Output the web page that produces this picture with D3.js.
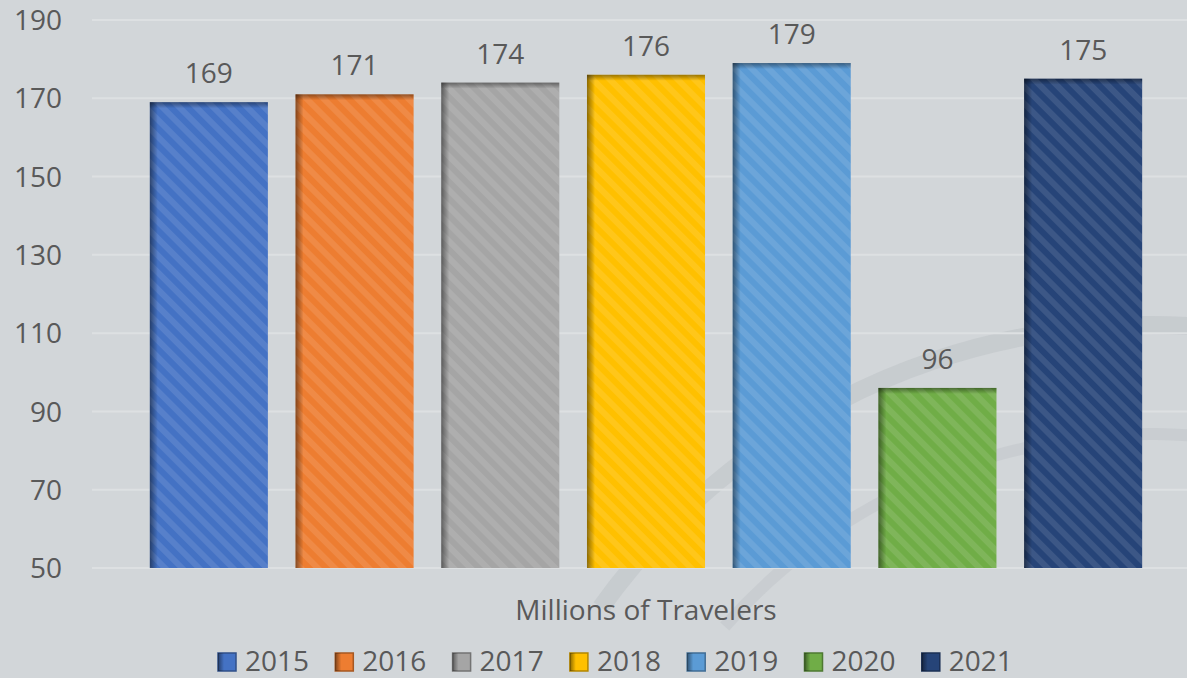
<!DOCTYPE html>
<html>
<head>
  <meta charset="utf-8">
  <title>Millions of Travelers</title>
  <style>
  body { margin: 0; background: #d2d6d9; }
  .lbl { font-family: "Open Sans", sans-serif; fill: #595959; }
  </style>
</head>
<body>
  <div id="chart"></div>
  <script src="https://cdn.jsdelivr.net/npm/d3@7"></script>
  <script>
  // data
  var years = ["2015", "2016", "2017", "2018", "2019", "2020", "2021"];
  var travelers = [169, 171, 174, 176, 179, 96, 175];
  var barColors = ["#4472c4", "#ed7d31", "#a5a5a5", "#ffc000", "#5b9bd5", "#70ad47", "#264478"];
  var yTicks = [50, 70, 90, 110, 130, 150, 170, 190];
  var axisTitle = "Millions of Travelers";

  var width = 1187, height = 678;
  var fs = 28;

  var svg = d3.select("#chart").append("svg")
    .attr("width", width)
    .attr("height", height);

  var defs = svg.append("defs");

  // diagonal stripes
  defs.append("pattern")
    .attr("id", "stripes")
    .attr("patternUnits", "userSpaceOnUse")
    .attr("width", 12)
    .attr("height", 12)
    .attr("patternTransform", "rotate(-45)")
    .append("rect")
    .attr("width", 6)
    .attr("height", 12)
    .attr("fill", "#fff")
    .attr("fill-opacity", 0.1);

  // inner shadow gradients
  var gl = defs.append("linearGradient").attr("id", "shadeLeft").attr("x1", 0).attr("x2", 1).attr("y1", 0).attr("y2", 0);
  gl.append("stop").attr("offset", 0).attr("stop-color", "#000").attr("stop-opacity", 0.45);
  gl.append("stop").attr("offset", 1).attr("stop-color", "#000").attr("stop-opacity", 0);
  var gt = defs.append("linearGradient").attr("id", "shadeTop").attr("x1", 0).attr("x2", 0).attr("y1", 0).attr("y2", 1);
  gt.append("stop").attr("offset", 0).attr("stop-color", "#000").attr("stop-opacity", 0.4);
  gt.append("stop").attr("offset", 1).attr("stop-color", "#000").attr("stop-opacity", 0);

  // faint watermark arcs in the background
  var arc = d3.arc();
  svg.append("path")
    .attr("transform", "translate(1150,1000)")
    .attr("d", arc({innerRadius: 666, outerRadius: 684, startAngle: -0.95, endAngle: 0.3}))
    .attr("fill", "#bfc4c8")
    .attr("fill-opacity", 0.6);
  svg.append("path")
    .attr("transform", "translate(1150,1000)")
    .attr("d", arc({innerRadius: 560, outerRadius: 572, startAngle: -0.85, endAngle: 0.3}))
    .attr("fill", "#bfc4c8")
    .attr("fill-opacity", 0.45);

  var x = d3.scaleBand()
    .domain(years)
    .range([136, 1156])
    .paddingInner(0.19)
    .paddingOuter(0.095);

  var y = d3.scaleLinear()
    .domain([50, 190])
    .range([568, 20]);

  // gridlines
  svg.append("g")
    .selectAll("line")
    .data(yTicks)
    .enter().append("line")
    .attr("x1", 92)
    .attr("x2", width)
    .attr("y1", function(d) { return y(d); })
    .attr("y2", function(d) { return y(d); })
    .attr("stroke", "#dde0e2")
    .attr("stroke-width", 2);

  // y labels
  svg.append("g")
    .selectAll("text")
    .data(yTicks)
    .enter().append("text")
    .attr("class", "lbl")
    .attr("x", 62)
    .attr("y", function(d) { return y(d); })
    .attr("dy", "0.36em")
    .attr("text-anchor", "end")
    .attr("font-size", fs)
    .text(function(d) { return d; });

  var rows = years.map(function(yr, i) { return {year: yr, value: travelers[i], color: barColors[i]}; });

  var bars = svg.append("g")
    .selectAll("g")
    .data(rows)
    .enter().append("g");

  bars.append("rect")
    .attr("x", function(d) { return x(d.year); })
    .attr("y", function(d) { return y(d.value); })
    .attr("width", x.bandwidth())
    .attr("height", function(d) { return y(50) - y(d.value); })
    .attr("fill", function(d) { return d.color; });

  bars.append("rect")
    .attr("x", function(d) { return x(d.year); })
    .attr("y", function(d) { return y(d.value); })
    .attr("width", x.bandwidth())
    .attr("height", function(d) { return y(50) - y(d.value); })
    .attr("fill", "url(#stripes)");

  bars.append("rect")
    .attr("x", function(d) { return x(d.year); })
    .attr("y", function(d) { return y(d.value); })
    .attr("width", 8)
    .attr("height", function(d) { return y(50) - y(d.value); })
    .attr("fill", "url(#shadeLeft)");

  bars.append("rect")
    .attr("x", function(d) { return x(d.year); })
    .attr("y", function(d) { return y(d.value); })
    .attr("width", x.bandwidth())
    .attr("height", 6)
    .attr("fill", "url(#shadeTop)");

  bars.append("text")
    .attr("class", "lbl")
    .attr("x", function(d) { return x(d.year) + x.bandwidth() / 2; })
    .attr("y", function(d) { return y(d.value) - 19; })
    .attr("text-anchor", "middle")
    .attr("font-size", fs)
    .text(function(d) { return d.value; });

  // axis title
  svg.append("text")
    .attr("class", "lbl")
    .attr("x", 646)
    .attr("y", 620)
    .attr("text-anchor", "middle")
    .attr("font-size", fs)
    .text(axisTitle);

  // legend
  var legend = svg.append("g")
    .selectAll("g")
    .data(rows)
    .enter().append("g")
    .attr("transform", function(d, i) { return "translate(" + (218 + i * 117.3) + ",653)"; });

  legend.append("rect")
    .attr("width", 18)
    .attr("height", 18)
    .attr("fill", function(d) { return d.color; })
    .attr("stroke", function(d) { return d3.color(d.color).darker(1); })
    .attr("stroke-width", 1.5);

  legend.append("rect")
    .attr("width", 6)
    .attr("height", 18)
    .attr("fill", "url(#shadeLeft)");

  legend.append("text")
    .attr("class", "lbl")
    .attr("x", 27)
    .attr("y", 18)
    .attr("font-size", fs)
    .text(function(d) { return d.year; });
  </script>
</body>
</html>
